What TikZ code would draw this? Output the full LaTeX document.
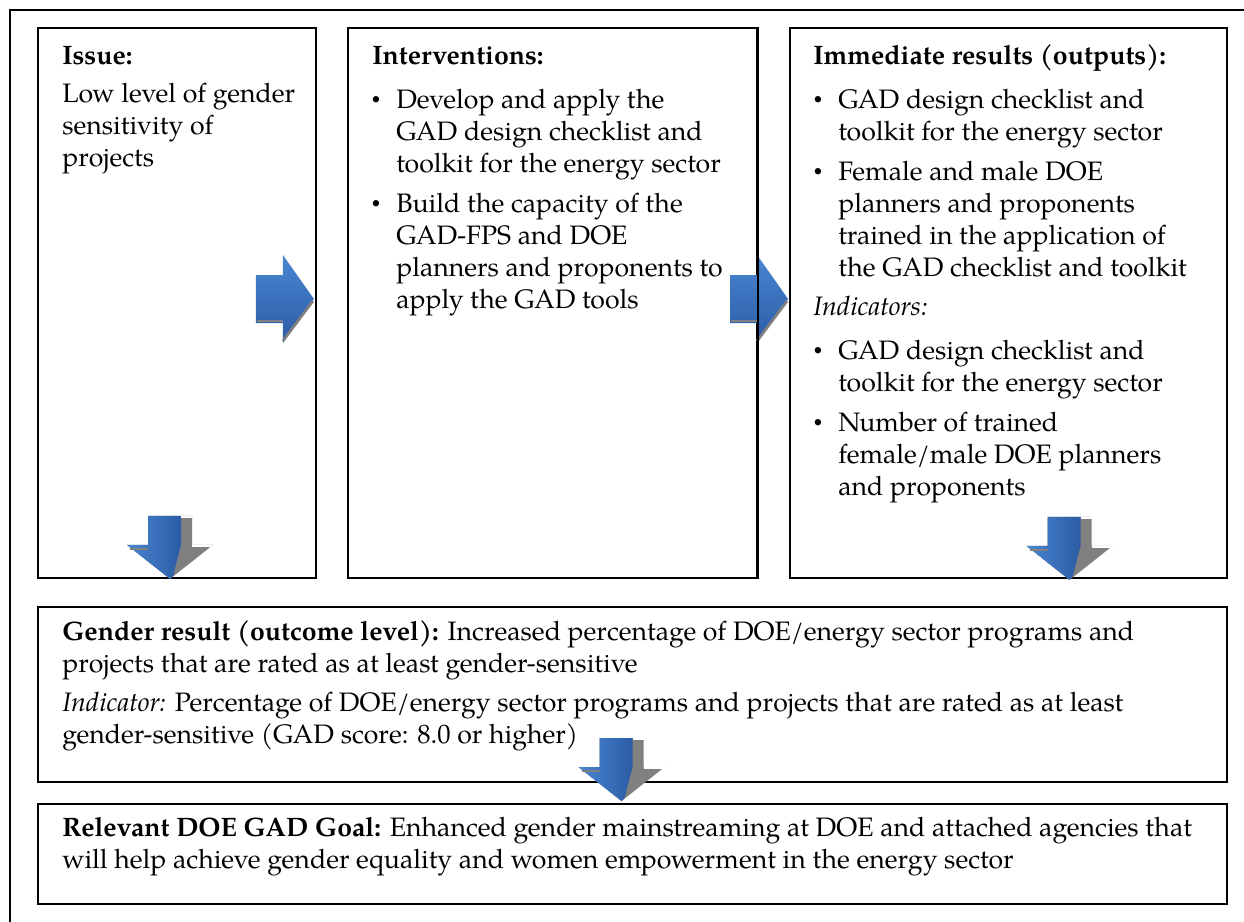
\documentclass[tikz,border=0pt]{standalone}
\usepackage{fontspec}
\setmainfont{texgyrepagella}[Extension=.otf,UprightFont=*-regular,BoldFont=*-bold,ItalicFont=*-italic,BoldItalicFont=*-bolditalic]
\newfontfamily\bulfont{Liberation Serif}
\usetikzlibrary{calc,fit}
\definecolor{atop}{HTML}{4A86D2}
\definecolor{abot}{HTML}{2B5CA5}
\definecolor{agray}{HTML}{808080}
\begin{document}
\begin{tikzpicture}[x=0.75pt,y=-0.75pt,
  frame/.style={draw=black,line width=1.4pt},
  box/.style={draw=black,line width=1.4pt,inner sep=0pt},
  txt/.style={anchor=base west,inner sep=0pt,font=\fontsize{20}{24}\selectfont},
  bul/.style={anchor=base west,inner sep=0pt,font=\fontsize{20}{24}\selectfont\bulfont},
  rarrow/.pic={
    \shade[top color=atop,bottom color=abot] (-58,-24) -- (-31,-24) -- (-31,-44) -- (0,0) -- (-31,44) -- (-31,24) -- (-58,24) -- cycle;
    \draw[agray,line width=2pt] (-57,22) -- (-31,22);
    \draw[agray,line width=2pt] (-31,42) -- (-1,2);
  },
  darrow/.pic={
    \fill[agray] (-22,-63) -- (22,-63) -- (22,-34) -- (43,-34) -- (0,0) -- (-43,-34) -- (-22,-34) -- cycle;
    \shade[left color=atop,right color=abot] (-22,-63) -- (11,-63) -- (11,-34) -- (3,-3) -- (0,0) -- (-43,-34) -- (-22,-34) -- cycle;
    \draw[agray,line width=2pt] (-40,-30) -- (-22,-30);
    \draw[white,line width=1.5pt] (11,-62) -- (22,-62);
    \draw[white,line width=1.5pt] (22,-33) -- (42,-33);
  }]
\useasboundingbox (0,0) rectangle (1244,921);
\clip (0,0) rectangle (1244,921);
\draw[frame] (10,10) rectangle (1270,950);

\node[box,fit={(38,28) (316,578)}] (issue) {};
\node[box,fit={(348,28) (757,578)}] (inter) {};
\node[box,fit={(790,28) (1227,578)}] (immed) {};
\node[box,fit={(38,607) (1227,782)}] (gender) {};
\node[box,fit={(38,804) (1227,904)}] (goal) {};

% Issue
\node[txt] (i0) at (62,64) {\textbf{Issue:}};
\node[txt] (i1) at (62,102) {Low level of gender};
\node[txt] (i2) at (62,134) {sensitivity of};
\node[txt] (i3) at (62,166) {projects};

% Interventions
\node[txt] (n0) at (372,64) {\textbf{Interventions:}};
\node[bul] (nb1) at (371,108) {•};
\node[txt] (n1) at (396,108) {Develop and apply the};
\node[txt] (n2) at (396,140) {GAD design checklist and};
\node[txt] (n3) at (396,172) {toolkit for the energy sector};
\node[bul] (nb2) at (371,212) {•};
\node[txt] (n4) at (396,212) {Build the capacity of the};
\node[txt] (n5) at (396,244) {GAD-FPS and DOE};
\node[txt] (n6) at (396,276) {planners and proponents to};
\node[txt] (n7) at (396,308) {apply the GAD tools};

% Immediate results
\node[txt] (m0) at (813,64) {\textbf{Immediate results (outputs):}};
\node[bul] (mb1) at (813,108) {•};
\node[txt] (m1) at (838,108) {GAD design checklist and};
\node[txt] (m2) at (838,140) {toolkit for the energy sector};
\node[bul] (mb2) at (813,180) {•};
\node[txt] (m3) at (838,180) {Female and male DOE};
\node[txt] (m4) at (838,212) {planners and proponents};
\node[txt] (m5) at (838,244) {trained in the application of};
\node[txt] (m6) at (838,276) {the GAD checklist and toolkit};
\node[txt] (m7) at (813,315) {\textit{Indicators:}};
\node[bul] (mb3) at (813,359) {•};
\node[txt] (m8) at (838,359) {GAD design checklist and};
\node[txt] (m9) at (838,391) {toolkit for the energy sector};
\node[bul] (mb4) at (813,431) {•};
\node[txt] (m10) at (838,431) {Number of trained};
\node[txt] (m11) at (838,463) {female/male DOE planners};
\node[txt] (m12) at (838,495) {and proponents};

% Gender result
\node[txt] (g1) at (62,640) {\textbf{Gender result (outcome level):} Increased percentage of DOE/energy sector programs and};
\node[txt] (g2) at (62,672) {projects that are rated as at least gender-sensitive};
\node[txt] (g3) at (62,711) {\textit{Indicator:} Percentage of DOE/energy sector programs and projects that are rated as at least};
\node[txt] (g4) at (62,743) {gender-sensitive (GAD score: 8.0 or higher)};

% Goal
\node[txt] (r1) at (62,836) {\textbf{Relevant DOE GAD Goal:} Enhanced gender mainstreaming at DOE and attached agencies that};
\node[txt] (r2) at (62,868) {will help achieve gender equality and women empowerment in the energy sector};

% arrows
\pic at ($(issue.east)+(-3,-4)$) {rarrow};
\pic at ($(immed.west)+(-1,-4)$) {rarrow};
\draw[box] (inter.north east) -- (inter.south east);
\pic at ($(issue.south)+(-7,0)$) {darrow};
\pic at ($(immed.south)+(61,1)$) {darrow};
\pic at ($(goal.north)+(-11,-2)$) {darrow};
\end{tikzpicture}
\end{document}
